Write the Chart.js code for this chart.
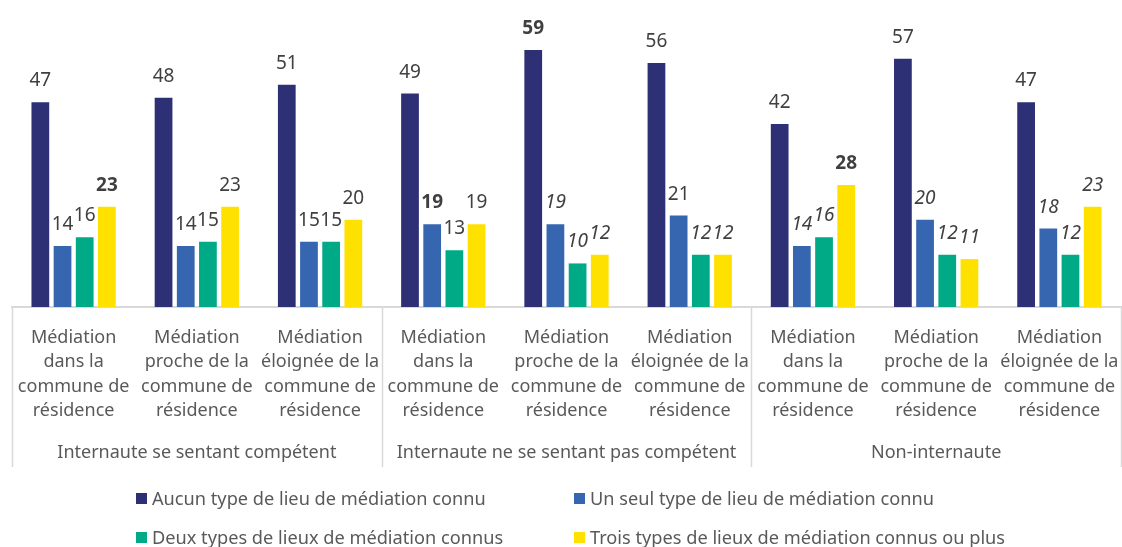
<!DOCTYPE html>
<html>
<head>
<meta charset="utf-8">
<script src="https://cdn.jsdelivr.net/npm/chart.js@4.4.1/dist/chart.umd.min.js"></script>
<style>
html,body{margin:0;padding:0;background:#fff;}
#wrap{width:1122px;height:547px;position:relative;}
</style>
</head>
<body>
<div id="wrap"><canvas id="c" width="1122" height="547"></canvas></div>
<script>
const categories = [
  ["Médiation","dans la","commune de","résidence"],
  ["Médiation","proche de la","commune de","résidence"],
  ["Médiation","éloignée de la","commune de","résidence"],
  ["Médiation","dans la","commune de","résidence"],
  ["Médiation","proche de la","commune de","résidence"],
  ["Médiation","éloignée de la","commune de","résidence"],
  ["Médiation","dans la","commune de","résidence"],
  ["Médiation","proche de la","commune de","résidence"],
  ["Médiation","éloignée de la","commune de","résidence"]
];
const groups = ["Internaute se sentant compétent","Internaute ne se sentant pas compétent","Non-internaute"];
const seriesNames = [
  "Aucun type de lieu de médiation connu",
  "Un seul type de lieu de médiation connu",
  "Deux types de lieux de médiation connus",
  "Trois types de lieux de médiation connus ou plus"
];
const aucun  = [47,48,51,49,59,56,42,57,47];
const unSeul = [14,14,15,19,19,21,14,20,18];
const deux   = [16,15,15,13,10,12,16,12,12];
const trois  = [23,23,20,19,12,12,28,11,23];
// label emphasis: n = normal, b = bold, i = italic
const aucunEmph  = ["n","n","n","n","b","n","n","n","n"];
const unSeulEmph = ["n","n","n","b","i","n","i","i","i"];
const deuxEmph   = ["n","n","n","n","i","i","i","i","i"];
const troisEmph  = ["b","n","n","n","i","i","b","i","i"];

const colors = ["#2E3075","#3766B0","#00AA86","#FFE100"];
const FONT = "'Noto Sans', sans-serif";
const VAL_TEXT = "#404040";
const TEXT = "#595959";

const emphAll = [aucunEmph, unSeulEmph, deuxEmph, troisEmph];

const overlay = {
  id: 'overlay',
  afterDatasetsDraw(chart) {
    const ctx = chart.ctx;
    ctx.save();
    ctx.textAlign = 'center';
    ctx.textBaseline = 'alphabetic';
    ctx.fillStyle = VAL_TEXT;
    chart.data.datasets.forEach((ds, di) => {
      const meta = chart.getDatasetMeta(di);
      meta.data.forEach((bar, i) => {
        const e = emphAll[di][i];
        ctx.font = (e === 'b' ? 'bold ' : e === 'i' ? 'italic ' : '') + '19px ' + FONT;
        ctx.fillText(String(ds.data[i]), bar.x, bar.y - 16);
      });
    });
    ctx.restore();
  },
  afterDraw(chart) {
    const ctx = chart.ctx;
    const x = chart.scales.x;
    const area = chart.chartArea;
    const b = area.bottom;
    ctx.save();
    // category labels
    ctx.fillStyle = TEXT;
    ctx.textAlign = 'center';
    ctx.textBaseline = 'alphabetic';
    ctx.font = '18px ' + FONT;
    categories.forEach((lines, i) => {
      const cx = x.getPixelForValue(i);
      lines.forEach((ln, k) => ctx.fillText(ln, cx, b + 36 + k * 24.4));
    });
    // group labels & separators
    const step = (area.right - area.left) / categories.length;
    ctx.strokeStyle = '#D9D9D9';
    ctx.lineWidth = 1.5;
    for (let g = 0; g <= groups.length; g++) {
      const sx = Math.round(area.left + g * 3 * step) + 0.5;
      ctx.beginPath();
      ctx.moveTo(sx, b);
      ctx.lineTo(sx, b + 160);
      ctx.stroke();
    }
    groups.forEach((gname, g) => {
      const cx = area.left + (g * 3 + 1.5) * step;
      ctx.fillText(gname, cx, b + 151);
    });
    // legend
    const legendPos = [[136, 505], [574, 505], [136, 544], [574, 544]];
    ctx.textAlign = 'left';
    ctx.font = '18.2px ' + FONT;
    seriesNames.forEach((name, k) => {
      const [lx, ly] = legendPos[k];
      ctx.fillStyle = colors[k];
      ctx.fillRect(lx, ly - 12, 11, 11);
      ctx.fillStyle = TEXT;
      ctx.fillText(name, lx + 16, ly);
    });
    ctx.restore();
  }
};

const seriesData = [aucun, unSeul, deux, trois];
new Chart(document.getElementById('c'), {
  type: 'bar',
  data: {
    labels: categories.map((c, i) => String(i)),
    datasets: seriesNames.map((n, k) => ({
      label: n,
      data: seriesData[k],
      backgroundColor: colors[k],
      borderWidth: 0,
      categoryPercentage: 0.72,
      barPercentage: 0.8
    }))
  },
  options: {
    responsive: false,
    animation: false,
    layout: { padding: { left: 12, right: 1, top: 2, bottom: 0 } },
    plugins: { legend: { display: false }, tooltip: { enabled: false } },
    scales: {
      x: {
        ticks: { display: false },
        grid: { display: false },
        border: { display: true, color: '#D9D9D9', width: 2 },
        afterFit(scale) { scale.height = 240; }
      },
      y: { display: false, min: 0, max: 70 }
    }
  },
  plugins: [overlay]
});
</script>
</body>
</html>
